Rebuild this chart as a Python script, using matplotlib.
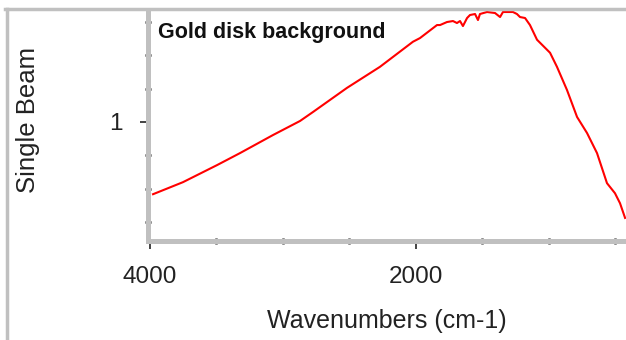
import matplotlib
matplotlib.use("Agg")
import matplotlib.pyplot as plt
from matplotlib.lines import Line2D
from matplotlib.ticker import MultipleLocator, FixedLocator

plt.rcParams['font.family'] = ['Liberation Sans', 'DejaVu Sans']

# single beam spectrum
wavenumbers = [3977, 3752, 3496, 3323, 3075, 2872, 2774, 2519, 2271, 2023, 1970,
               1842, 1819, 1767, 1722, 1692, 1669, 1647, 1616, 1594, 1556, 1534,
               1519, 1466, 1406, 1368, 1346, 1271, 1241, 1218, 1180, 1143, 1090,
               992, 940, 865, 789, 714, 639, 564, 504, 466, 428]
beam = [0.784, 0.820, 0.871, 0.907, 0.961, 1.003, 1.030, 1.102, 1.165, 1.240, 1.251,
        1.290, 1.290, 1.299, 1.302, 1.296, 1.302, 1.287, 1.311, 1.320, 1.323, 1.305,
        1.323, 1.329, 1.326, 1.314, 1.329, 1.329, 1.323, 1.314, 1.311, 1.290, 1.246,
        1.207, 1.165, 1.096, 1.015, 0.967, 0.907, 0.817, 0.787, 0.757, 0.713]

title = "Gold disk background"
xlabel = "Wavenumbers (cm-1)"
ylabel = "Single Beam"

W, H = 626, 340
fig = plt.figure(figsize=(W / 100, H / 100), dpi=100)
ax = fig.add_axes([148 / W, (H - 241) / H, (626 - 148) / W, (241 - 11) / H])

ax.plot(wavenumbers, beam, color='#ff0000', lw=1.5)
ax.set_xlim(4015, 421)
ax.set_ylim(0.644, 1.332)

gray = '#c0c0c0'
for s in ['top', 'right']:
    ax.spines[s].set_visible(False)
for s in ['left', 'bottom']:
    ax.spines[s].set_color(gray)
    ax.spines[s].set_linewidth(3.6)

ax.xaxis.set_major_locator(FixedLocator([4000, 2000]))
ax.xaxis.set_minor_locator(MultipleLocator(500))
ax.yaxis.set_major_locator(FixedLocator([1]))
ax.yaxis.set_minor_locator(MultipleLocator(0.1))
ax.tick_params(which='major', direction='out', length=6, width=1.2, color='#222222',
               labelsize=17.5, labelcolor='#222222', pad=12)
ax.tick_params(which='minor', direction='inout', length=4, width=1.8, color='#222222')

ax.set_xlabel(xlabel, fontsize=18, color='#222222', labelpad=15)
ax.set_ylabel(ylabel, fontsize=18.5, color='#222222')
ax.yaxis.set_label_coords(-0.226, 0.525)

ax.text(0.021, 0.95, title, transform=ax.transAxes, fontsize=15.5,
        fontweight='bold', va='top', ha='left', color='#111111')

# outer frame lines
fig.add_artist(Line2D([6.5 / W, 6.5 / W], [0, (H - 8.5) / H], color=gray, lw=2.5,
                      transform=fig.transFigure))
fig.add_artist(Line2D([5 / W, 1], [(H - 8.5) / H, (H - 8.5) / H], color=gray, lw=2.5,
                      transform=fig.transFigure))

fig.savefig("out.png", dpi=100)
